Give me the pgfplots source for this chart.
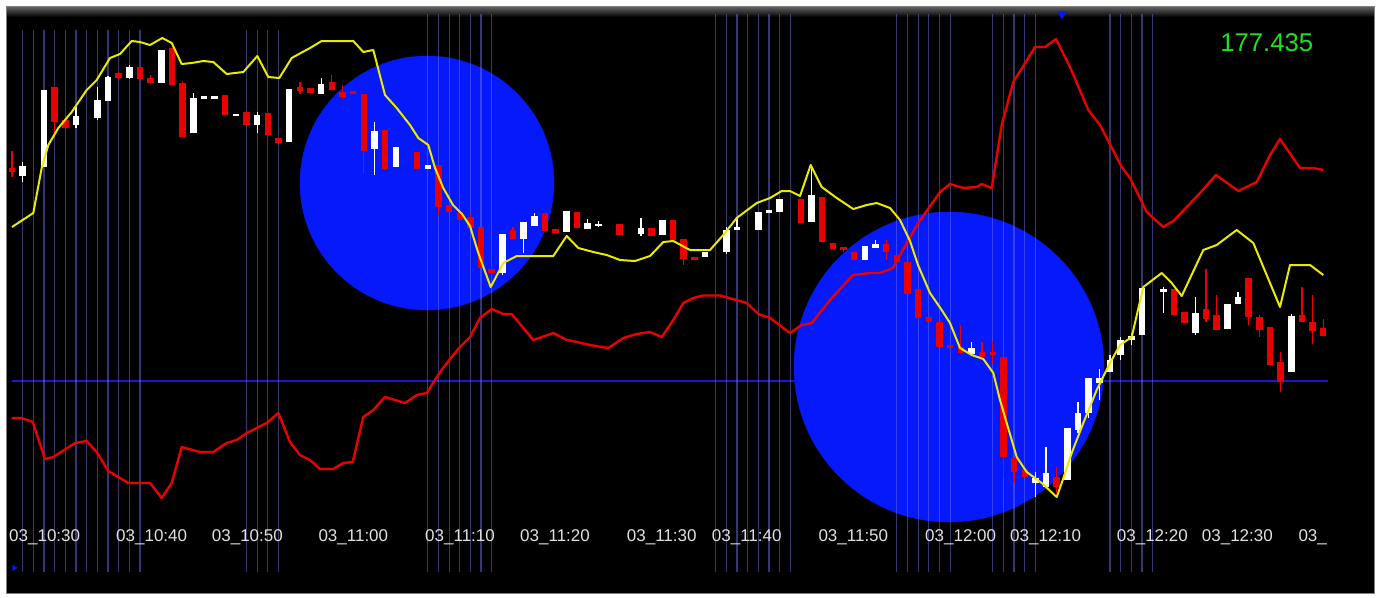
\documentclass[border=0pt]{standalone}
\usepackage{fontspec}
\setmainfont{Liberation Sans}
\usepackage{pgfplots}
\usepackage{pgfplotstable}
\pgfplotsset{compat=1.18}

\definecolor{cred}{RGB}{235,0,0}
\definecolor{cyel}{RGB}{235,235,0}
\definecolor{cblue}{RGB}{5,25,250}
\definecolor{hblue}{RGB}{25,25,200}
\definecolor{vblue}{RGB}{120,120,255}
\definecolor{cgreen}{RGB}{30,225,30}
\definecolor{lbl}{RGB}{225,225,225}

% candles: bar index, body top, body bottom, wick top, wick bottom (screen y, grows downward)
\pgfplotstableread{
i bt bb wt wb
0 168 172 151 177
4 87 122 87 138
5 120 128 118 133
10 73 78 72 79
12 67 79 67 79
13 78 83 75 84
15 48 85 48 85
16 83 137 81 137
20 95 115 95 115
22 112 125 112 125
24 113 135 113 135
25 138 142.5 138 142.5
27 86.5 91 81.5 93.5
28 88 92.5 88 92.5
30 82 90 75 90
31 91.5 96.5 85 98.5
32 91 94 91 94
33 94 151 94 173
35 130 169 130 170
38 152 169 152 169
40 165 207 165 215
41 205 211.5 205 211.5
42 211.5 220 210 225
43 217 228 214 230
44 227 268 227 268
45 268.5 273 266 275
47 230 239 227 239
50 213 231 213 231
51 228.5 233 228.5 233
53 212 228 212 228
57 223.5 235 223.5 235
60 227.5 236 227.5 236
62 219.5 239.5 219.5 239.5
63 238.5 258.5 238.5 265
64 256.5 259.5 256.5 259.5
74 198.5 222.5 198.5 222.5
76 197 242 197 242
77 242.5 248.5 242.5 248.5
78 246.5 250 246.5 252
79 251.5 259.5 251.5 259.5
82 243.5 251.5 240 260
83 255 262 255 262
84 262 294 262 294
85 288.5 318 288.5 318
86 317 322 317 322
87 322 347 322 347
88 345 348 345 348
89 347 353 325 353
91 352 357 342 357
92 352 355 342 363
93 357 457 357 478
94 458 472 458 483
95 469 477 469 477
98 477 487 467 493
109 288.5 315 288.5 315
110 311.5 322.5 311.5 322.5
112 308.5 318.5 269 322
113 315 329.5 295 330
116 277.5 316.5 277.5 325
117 317 330 315 336.5
118 327 365 327 365
119 362 382 352 392
121 315 322 287 322
122 322 331 295 344
123 327.5 336 319 336
}\redc

\pgfplotstableread{
i bt bb wt wb
1 165.5 176 162 182
3 90 167 90 167
6 116 125 107 128
8 100 118 87 120
9 77 101 76 101
11 67 78 65 79
14 50 83 50 83
17 98 133 93 133
18 96 98.5 96 98.5
19 95.5 98.5 95.5 98.5
21 113.5 116 113.5 116
23 114.5 125 112 133
26 88.5 142 88.5 142
29 83.5 93.5 78 93.5
34 131 149 122 175
36 147 167 147 167
39 165 168.5 165 168.5
46 234 273 234 275
48 222 239 222 253
49 216 226 213 226
52 211 232 211 232
54 223 229 219 229
55 223.5 226 220.5 227
59 227.5 233.5 218 236
61 219.5 235 219.5 235
65 251.5 257 251.5 257
67 229.5 251.5 227 254
68 226.5 230 218 230
70 212 230 212 230
71 210 212.5 210 212.5
72 198.5 211.5 198.5 211.5
75 195 222 165 222
80 246 260 246 260
81 244 247.5 240 247.5
90 348 354 342 354
96 478 483 472 497
97 473 487 447 487
99 428 480 428 480
100 413 430 402 433
101 378 413 378 418
102 378 383 369 400
103 360 372 355 372
104 340 355 337 360
105 336 340 333 345
106 288 335 288 335
108 289 292 287 313
111 313 333 297 335
114 304 329 304 329
115 297 304 292 304
120 316 372 314 372
}\whitec

% vertical markers: bar index, top, bottom
\pgfplotstableread{
i top bot
1 30 572
2 30 572
3 30 572
4 30 572
5 30 572
6 30 572
7 30 572
8 30 572
9 30 572
10 30 572
11 30 572
12 30 572
22 30 572
23 30 572
24 30 572
25 30 572
39 14 572
40 14 572
41 14 572
42 14 572
43 14 572
44 14 572
45 14 572
66 14 572
67 14 572
68 14 572
69 14 572
70 14 572
71 14 572
72 14 572
73 14 572
83 14 572
84 14 572
85 14 572
86 14 572
87 14 572
88 14 572
92 14 572
93 14 572
94 14 572
95 14 572
96 14 572
103 14 572
104 14 572
105 14 572
106 14 572
107 14 572
}\vlines

\begin{document}
\begin{tikzpicture}
\begin{axis}[
  scale only axis, width=1380pt, height=597pt,
  xmin=0, xmax=1380, ymin=0, ymax=597,
  y dir=reverse, hide axis, clip=false, clip marker paths=true,
]
% page and panel
\fill[white] (axis cs:0,0) rectangle (axis cs:1380,597);
\fill[black] (axis cs:7,7) rectangle (axis cs:1374,593);
\shade[top color={rgb,255:red,95;green,95;blue,95}, bottom color=black] (axis cs:7,7) rectangle (axis cs:1374,17);
\draw[gray, line width=1.2pt] (axis cs:6.5,6.5) rectangle (axis cs:1374.5,593.5);

% horizontal level
\addplot[hblue, line width=1.4pt] coordinates {(12,381) (1328,381)};

% highlight circles
\addplot[only marks, mark=*, mark size=127pt, color=cblue] coordinates {(427,183)};
\addplot[only marks, mark=*, mark size=155pt, color=cblue] coordinates {(949,367)};

% vertical bar markers
\addplot[draw=none, mark=none, error bars/.cd, y dir=both, y explicit, error mark=none,
  error bar style={draw=vblue, draw opacity=0.45, line width=1.2pt}]
  table[x expr=12.04+10.66*\thisrow{i}, y expr=(\thisrow{top}+\thisrow{bot})/2,
        y error expr=(\thisrow{bot}-\thisrow{top})/2] {\vlines};

% red indicator line
\addplot[cred, line width=2.4pt, line join=round] coordinates {
(11.7,418) (21.7,418) (32.7,422) (45,459) (53.3,457) (75,443) (86.7,441) (96.7,452)
(108.3,471) (128.3,483) (150,483) (161.7,498) (171.7,483) (181.7,447) (200,452)
(213.3,452) (226.7,443) (236.7,440) (246.7,433) (266.7,423) (278.3,413) (290,442)
(300,455) (310,460) (320,469) (333.3,469) (343.3,463) (352.7,462) (363.3,417)
(373.3,410) (385,397) (395,400) (405,403) (416.7,395) (426.7,393) (440,372)
(450,359) (460,347) (470,337) (480,318) (491.7,309) (503.3,314) (511.7,314)
(533.3,340) (553.3,333) (566.7,340) (576.7,342) (590,345) (608.3,348) (623.3,338)
(636.7,334) (650,332) (661.7,337) (673.3,320) (683.3,303) (693.3,298) (703,295.5)
(720,295.5) (733,299) (746.7,303) (758.3,314) (770,318) (790,333) (801.7,325)
(811.7,323) (830,300) (853,275) (870,273) (880,273) (893,268) (906.7,243)
(918.3,223) (940,192) (950,184) (963.3,188) (976.7,187) (981.7,184) (991.7,188)
(1001.7,125) (1013.3,82) (1035,47) (1045,47) (1056,39) (1070,67) (1088.3,110)
(1100,125) (1121.7,167) (1130,178) (1146.7,212) (1163.3,227) (1173.3,221)
(1200,193) (1216,175) (1238.3,191) (1256.7,182) (1270,155) (1280,139) (1300,168)
(1313.3,168) (1323.3,170)
};

% candles: wicks then bodies
\addplot[draw=none, mark=none, error bars/.cd, y dir=both, y explicit, error mark=none,
  error bar style={draw=cred, line width=1.3pt}]
  table[x expr=12.04+10.66*\thisrow{i}, y expr=(\thisrow{wt}+\thisrow{wb})/2,
        y error expr=(\thisrow{wb}-\thisrow{wt})/2] {\redc};
\addplot[draw=none, mark=none, error bars/.cd, y dir=both, y explicit, error mark=none,
  error bar style={draw=white, line width=1.3pt}]
  table[x expr=12.04+10.66*\thisrow{i}, y expr=(\thisrow{wt}+\thisrow{wb})/2,
        y error expr=(\thisrow{wb}-\thisrow{wt})/2] {\whitec};
\addplot[draw=none, mark=none, error bars/.cd, y dir=both, y explicit, error mark=none,
  error bar style={draw=cred, line width=6.5pt}]
  table[x expr=12.04+10.66*\thisrow{i}, y expr=(\thisrow{bt}+\thisrow{bb})/2,
        y error expr=(\thisrow{bb}-\thisrow{bt})/2] {\redc};
\addplot[draw=none, mark=none, error bars/.cd, y dir=both, y explicit, error mark=none,
  error bar style={draw=white, line width=6.5pt}]
  table[x expr=12.04+10.66*\thisrow{i}, y expr=(\thisrow{bt}+\thisrow{bb})/2,
        y error expr=(\thisrow{bb}-\thisrow{bt})/2] {\whitec};

% yellow moving average
\addplot[cyel, line width=2pt, line join=round] coordinates {
(12,227) (33.3,213) (41.7,168) (48.3,145) (58.3,128) (71.7,112) (86.7,90) (96.7,80)
(110,58) (120,54) (131.7,41) (140,42) (150,45) (162.3,38) (171.7,43) (181.7,64)
(191.7,63) (203.3,61) (213.3,62) (226.7,74) (243.3,72) (257.3,56) (268.3,77)
(279.3,78) (291.7,58) (310,48) (321.7,41) (353.3,41) (363.3,52) (373.3,50)
(385,95) (396.7,108) (410,125) (418.3,138) (428.3,145) (435,168) (443.3,188)
(453,205) (462,214) (470,226) (478.3,253) (490.7,287) (503.3,263) (516.7,256)
(553.3,256) (566.7,236) (578.3,248) (593.3,252) (606.7,255) (620,260) (635,261)
(650,256) (663.3,242) (673.3,241) (690,250) (710,250) (723.3,235) (736.7,218)
(756.7,203) (770,198) (781.7,191) (790,191) (800,196) (810.7,165) (821.7,187)
(836.7,198) (853.3,209) (866.7,205) (876.7,203) (890,208) (900,220) (910,241)
(918,265) (930,293) (941.7,310) (950,323) (960,348) (971.7,355) (983.3,359)
(993.3,373) (1000,400) (1006.7,423) (1016.7,457) (1026.7,472) (1041.7,483)
(1056.7,497) (1061.7,483) (1071.7,453) (1083.3,423) (1096.7,390) (1110,363)
(1120,345) (1131.7,337) (1143.3,287) (1161.7,273) (1171.7,283) (1181.7,296)
(1203.3,250) (1216.7,245) (1236.7,230) (1253.3,243) (1280,307) (1290,265)
(1310,265) (1323.3,275)
};

% small markers
\addplot[only marks, mark=triangle*, mark size=5pt, mark options={rotate=180}, color=cblue] coordinates {(1062,14)};
\addplot[only marks, mark=triangle*, mark size=3pt, mark options={rotate=150}, color=cblue] coordinates {(14,568)};

% price and time labels
\node[text=cgreen, font=\fontsize{25.7}{30}\selectfont] at (axis cs:1266.7,43) {177.435};
\begin{scope}[every node/.style={anchor=west, inner sep=0pt, text=lbl, font=\fontsize{17}{20}\selectfont}]
\node at (axis cs:9,537) {03\_10:30};
\node at (axis cs:116,537) {03\_10:40};
\node at (axis cs:211.7,537) {03\_10:50};
\node at (axis cs:318.3,537) {03\_11:00};
\node at (axis cs:425,537) {03\_11:10};
\node at (axis cs:520,537) {03\_11:20};
\node at (axis cs:626.7,537) {03\_11:30};
\node at (axis cs:711.7,537) {03\_11:40};
\node at (axis cs:818.3,537) {03\_11:50};
\node at (axis cs:925,537) {03\_12:00};
\node at (axis cs:1010,537) {03\_12:10};
\node at (axis cs:1116.7,537) {03\_12:20};
\node at (axis cs:1201.7,537) {03\_12:30};
\node at (axis cs:1298.3,537) {03\_};
\end{scope}
\end{axis}
\end{tikzpicture}
\end{document}
